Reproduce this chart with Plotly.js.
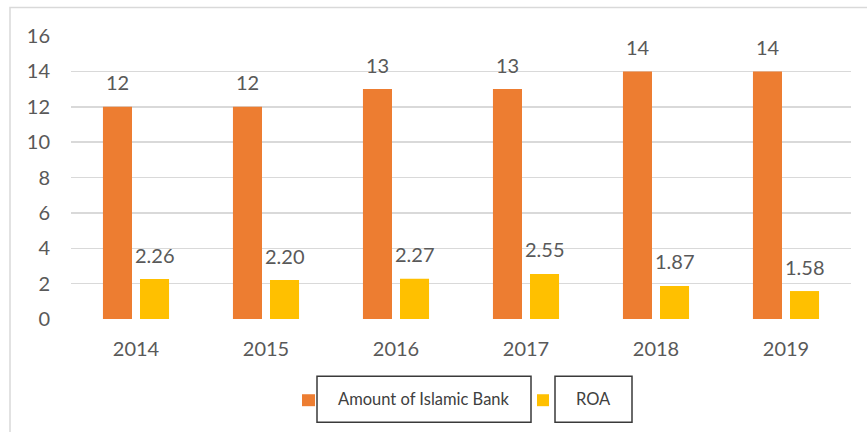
<!DOCTYPE html>
<html>
<head>
<meta charset="utf-8">
<script src="https://cdn.plot.ly/plotly-3.0.1.min.js"></script>
<style>html,body{margin:0;padding:0;background:#fff;}#chart{width:867px;height:432px;}</style>
</head>
<body>
<div id="chart"></div>
<script>
const years = ['2014', '2015', '2016', '2017', '2018', '2019'];
const bankCount = [12, 12, 13, 13, 14, 14];
const roa = [2.26, 2.20, 2.27, 2.55, 1.87, 1.58];
const seriesNames = ['Amount of Islamic Bank', 'ROA'];
const seriesColors = ['#ED7D31', '#FFC000'];

const textColor = '#595959';
const fontFam = 'Lato, "Open Sans", sans-serif';

// plot area geometry (pixels)
const L = 71, R = 851, T = 35.5, B = 319.5, W = 867, H = 432;
const px = x => (x - L) / (R - L);
const py = y => (B - y) / (B - T);

const traces = [
  {type: 'bar', x: years, y: bankCount, name: seriesNames[0], marker: {color: seriesColors[0]}, hoverinfo: 'x+y'},
  {type: 'bar', x: years, y: roa, name: seriesNames[1], marker: {color: seriesColors[1]}, hoverinfo: 'x+y'}
];

const annotations = [];
const offs = [-18.5, 18.5];
[bankCount, roa].forEach((vals, si) => {
  vals.forEach((v, i) => {
    annotations.push({
      x: i, y: v, xref: 'x', yref: 'y',
      text: si === 0 ? String(v) : v.toFixed(2),
      showarrow: false, xshift: offs[si], yshift: 24.5, yanchor: 'middle',
      font: {family: fontFam, size: 20, color: textColor}
    });
  });
});

// manual legend (boxed items)
const legendItems = [
  {name: seriesNames[0], color: seriesColors[0], mk: [302, 315], box: [317, 531]},
  {name: seriesNames[1], color: seriesColors[1], mk: [537, 549], box: [555, 632]}
];
const shapes = [
  {type: 'rect', xref: 'paper', yref: 'paper', x0: px(10), x1: px(900), y0: py(470), y1: py(7),
   line: {color: '#d9d9d9', width: 1.5}, fillcolor: 'rgba(0,0,0,0)', layer: 'below'}
];
legendItems.forEach(it => {
  shapes.push({type: 'rect', xref: 'paper', yref: 'paper', x0: px(it.mk[0]), x1: px(it.mk[1]),
    y0: py(407), y1: py(395), line: {width: 0}, fillcolor: it.color});
  shapes.push({type: 'rect', xref: 'paper', yref: 'paper', x0: px(it.box[0]), x1: px(it.box[1]),
    y0: py(423), y1: py(377), line: {color: '#3a3a3a', width: 1.5}, fillcolor: 'rgba(0,0,0,0)'});
  annotations.push({xref: 'paper', yref: 'paper', x: px((it.box[0] + it.box[1]) / 2), y: py(400),
    text: it.name, showarrow: false, xanchor: 'center', yanchor: 'middle',
    font: {family: fontFam, size: 16.5, color: '#404040'}});
});

const layout = {
  width: W, height: H,
  margin: {l: L, r: W - R, t: T, b: H - B, pad: 0},
  paper_bgcolor: '#ffffff', plot_bgcolor: '#ffffff',
  showlegend: false,
  barmode: 'group', bargap: 0.43, bargroupgap: 0.216,
  font: {family: fontFam, size: 20, color: textColor},
  xaxis: {type: 'category', range: [-0.5, years.length - 0.5], showgrid: false, zeroline: false, showline: false, ticks: '',
    ticklabelstandoff: 16, tickfont: {family: fontFam, size: 20, color: textColor}},
  yaxis: {range: [0, 16], dtick: 2, tick0: 0, showgrid: true, gridcolor: '#d9d9d9', gridwidth: 1.5,
    zeroline: false, showline: false, ticks: '', ticklabelstandoff: 20,
    tickfont: {family: fontFam, size: 20, color: textColor}},
  annotations: annotations,
  shapes: shapes
};

Plotly.newPlot('chart', traces, layout, {displayModeBar: false, staticPlot: true});
</script>
</body>
</html>
